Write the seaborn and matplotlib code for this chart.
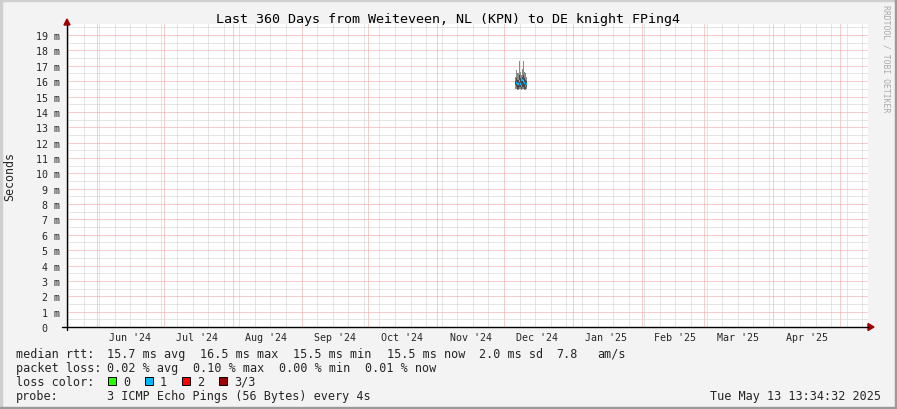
import matplotlib
matplotlib.use("Agg")
import matplotlib.pyplot as plt
import matplotlib.dates as mdates
from matplotlib.patches import Rectangle, Polygon
from matplotlib.lines import Line2D
import seaborn as sns
import pandas as pd
import numpy as np
from datetime import datetime, timedelta

# ---------------- data ----------------
end_time = datetime(2025, 5, 13, 13, 34, 32)
span_days = 360
step_hours = 12
sample_start = datetime(2024, 12, 6, 0, 0)
smoke_lo  = [15.5, 15.5, 15.4, 15.5, 15.5, 15.4, 15.5, 15.5, 15.4, 15.4, 15.5]
smoke_qlo = [15.6, 15.6, 15.5, 15.6, 15.6, 15.5, 15.6, 15.6, 15.5, 15.5, 15.6]
smoke_qhi = [16.0, 16.2, 16.1, 16.4, 16.2, 16.0, 16.3, 16.4, 16.2, 16.1, 16.0]
smoke_hi  = [16.3, 16.7, 16.5, 17.3, 16.6, 16.4, 16.8, 17.3, 16.6, 16.5, 16.3]
median_ms = [15.7, 15.9, 15.8, 16.0, 15.8, 15.7, 16.1, 16.0, 15.9, 15.7, 15.8]
loss_cnt  = [0, 1, 1, 0, 1, 1, 1, 0, 1, 1, 1]

loss_labels = ["0", "1", "2", "3/3"]
loss_colors = ["#26ff00", "#00b8ff", "#ff0000", "#a00000"]

month_labels = ["Jun '24", "Jul '24", "Aug '24", "Sep '24", "Oct '24", "Nov '24",
                "Dec '24", "Jan '25", "Feb '25", "Mar '25", "Apr '25"]
month_dates = [datetime(2024, m, 1) for m in range(6, 13)] + \
              [datetime(2025, m, 1) for m in range(1, 5)]

ytick_vals = list(range(0, 20))
ytick_labels = ["0  "] + [f"{v} m" for v in range(1, 20)]

title = "Last 360 Days from Weiteveen, NL (KPN) to DE knight FPing4"
row_rtt = [("median rtt:", 16), ("15.7 ms avg", 107), ("16.5 ms max", 200),
           ("15.5 ms min", 293), ("15.5 ms now", 387), ("2.0 ms sd", 479),
           ("7.8", 556), ("am/s", 597)]
row_loss = [("packet loss:", 16), ("0.02 % avg", 107), ("0.10 % max", 193),
            ("0.00 % min", 279), ("0.01 % now", 365)]
probe_text = "3 ICMP Echo Pings (56 Bytes) every 4s"
stamp_text = "Tue May 13 13:34:32 2025"

# ---------------- figure ----------------
sns.set_style("white")
plt.rcParams["font.family"] = ["DejaVu Sans Mono"]

W, H = 897, 410
def fx(x): return x / W
def fy(y): return 1 - y / H

BG = "#f3f3f3"
fig = plt.figure(figsize=(W / 100, H / 100), dpi=100, facecolor=BG)
ax = fig.add_axes([fx(67), fy(328), (868 - 67) / W, (328 - 25) / H])
ax.set_facecolor("white")

start_time = end_time - timedelta(days=span_days)
ax.set_xlim(mdates.date2num(start_time), mdates.date2num(end_time))
ax.set_ylim(0, 19.72)

df = pd.DataFrame({
    "time": [sample_start + timedelta(hours=step_hours * i) for i in range(len(median_ms))],
    "lo": smoke_lo, "qlo": smoke_qlo, "qhi": smoke_qhi, "hi": smoke_hi,
    "median": median_ms, "loss": loss_cnt,
})
t = mdates.date2num(df["time"])
w = step_hours / 24.0

# grid
minor_c = "#cccccc"
major_c = "#f09a9a"
dot = (0, (1, 1))
ax.xaxis.set_major_locator(mdates.MonthLocator())
ax.xaxis.set_minor_locator(mdates.WeekdayLocator(byweekday=mdates.SU))
ax.set_yticks(ytick_vals)
ax.set_yticks(np.arange(0.5, 19.6, 1.0), minor=True)
ax.grid(which="minor", color=minor_c, linestyle=dot, linewidth=0.72, zorder=0)
ax.grid(which="major", color=major_c, linestyle=dot, linewidth=0.72, zorder=0.5)
ax.set_axisbelow(True)
ax.set_xticklabels([])
ax.set_yticklabels(ytick_labels, fontsize=7.2)
ax.tick_params(axis="y", which="both", length=0, pad=5.2)
ax.tick_params(axis="x", which="major", length=2, color=major_c, width=0.7)
ax.tick_params(axis="x", which="minor", length=0)
for s in ax.spines.values():
    s.set_visible(False)

# smoke
ax.bar(t, np.array(smoke_hi) - np.array(smoke_lo), bottom=smoke_lo, width=w,
       align="edge", color="#8a8a8a", linewidth=0, zorder=2)
ax.bar(t, np.array(smoke_qhi) - np.array(smoke_qlo), bottom=smoke_qlo, width=w,
       align="edge", color="#4a4a4a", linewidth=0, zorder=3)
ax.hlines(df["median"], t, t + w, colors=[loss_colors[l] for l in loss_cnt],
          linewidth=1.6, zorder=4)

# month labels at mid-month (16th)
for lab, d in zip(month_labels, month_dates):
    xm = mdates.date2num(d + timedelta(days=15))
    ax.text(xm, -0.62, lab, ha="center", va="center", fontsize=7.2, clip_on=False)

# axes lines and arrows
fig.add_artist(Line2D([fx(62), fx(868)], [fy(328), fy(328)], color="black", lw=1.0))
fig.add_artist(Line2D([fx(67), fx(67)], [fy(331), fy(26)], color="black", lw=1.0))
arrow_c = "#a00000"
fig.add_artist(Polygon([[fx(64), fy(26)], [fx(70), fy(26)], [fx(67), fy(20)]],
                       closed=True, color=arrow_c, transform=fig.transFigure))
fig.add_artist(Polygon([[fx(868), fy(324.5)], [fx(868), fy(331.5)], [fx(874), fy(328)]],
                       closed=True, color=arrow_c, transform=fig.transFigure))

# title and labels
fig.text(fx(448), fy(19), title, ha="center", va="center", fontsize=9.6, color="black")
fig.text(fx(10), fy(177), "Seconds", rotation=90, ha="center", va="center", fontsize=8.4)
fig.text(fx(886), fy(59), "RRDTOOL / TOBI OETIKER", rotation=270, ha="center",
         va="center", fontsize=5.9, color="#aaaaaa")

# legend rows
LF = 8.5
for txt, x in row_rtt:
    fig.text(fx(x), fy(358), txt, ha="left", va="baseline", fontsize=LF)
for txt, x in row_loss:
    fig.text(fx(x), fy(372), txt, ha="left", va="baseline", fontsize=LF)
fig.text(fx(16), fy(386), "loss color:", ha="left", va="baseline", fontsize=LF)
box_x = [108, 145, 182, 219]
for bx, col, lab in zip(box_x, loss_colors, loss_labels):
    fig.add_artist(Rectangle((fx(bx), fy(386)), 8 / W, 8 / H, facecolor=col,
                             edgecolor="black", linewidth=0.7, transform=fig.transFigure))
    fig.text(fx(bx + 15), fy(386), lab, ha="left", va="baseline", fontsize=LF)
fig.text(fx(16), fy(400), "probe:", ha="left", va="baseline", fontsize=LF)
fig.text(fx(107), fy(400), probe_text, ha="left", va="baseline", fontsize=LF)
fig.text(fx(881), fy(400), stamp_text, ha="right", va="baseline", fontsize=LF)

# frame
fig.add_artist(Rectangle((0, 0), 2 / W, 1, color="#cfcfcf", transform=fig.transFigure))
fig.add_artist(Rectangle((0, 1 - 2 / H), 1, 2 / H, color="#cfcfcf", transform=fig.transFigure))
fig.add_artist(Rectangle((1 - 2 / W, 0), 2 / W, 1, color="#9a9a9a", transform=fig.transFigure))
fig.add_artist(Rectangle((0, 0), 1, 2 / H, color="#9a9a9a", transform=fig.transFigure))

fig.savefig("out.png", dpi=100, facecolor=BG)
